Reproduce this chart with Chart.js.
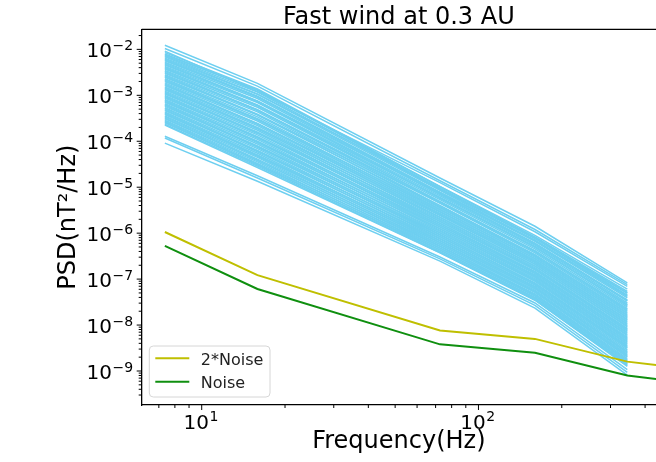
<!DOCTYPE html>
<html>
<head>
<meta charset="utf-8">
<script src="https://cdn.jsdelivr.net/npm/chart.js@4.4.1/dist/chart.umd.min.js"></script>
<style>
  html, body { margin: 0; padding: 0; background: #fff; overflow: hidden; }
  #wrap { width: 656px; height: 462px; position: relative; }
</style>
</head>
<body>
<div id="wrap"><canvas id="psdChart" width="656" height="462"></canvas></div>
<script>
// frequencies (Hz) where each spectrum is sampled
const psdFreqs = [7.36, 15.9, 72.6, 160, 345];
const noiseFreqs = [7.36, 15.9, 72.6, 160, 345, 450];

// noise floor, nT^2/Hz
const noiseLevel = [5.3e-7, 6.1e-8, 3.8e-9, 2.5e-9, 8.0e-10, 6.6e-10];
const twoNoiseLevel = [1.06e-6, 1.22e-7, 7.6e-9, 5.0e-9, 1.6e-9, 1.32e-9];

// spectra, stored as log10(PSD)
const psdLog10 = [
    [-1.91, -2.74, -4.80, -5.85, -7.08],
    [-1.98, -2.80, -4.86, -5.92, -7.12],
    [-2.04, -2.92, -4.90, -5.97, -7.16],
    [-2.07, -2.86, -4.98, -6.05, -7.22],
    [-2.12, -2.88, -5.03, -6.10, -7.30],
    [-2.16, -2.97, -5.02, -6.11, -7.35],
    [-2.21, -3.02, -5.11, -6.15, -7.36],
    [-2.25, -3.03, -5.15, -6.22, -7.45],
    [-2.30, -3.12, -5.14, -6.23, -7.47],
    [-2.34, -3.13, -5.24, -6.30, -7.55],
    [-2.39, -3.21, -5.23, -6.31, -7.56],
    [-2.43, -3.22, -5.32, -6.38, -7.64],
    [-2.48, -3.31, -5.33, -6.40, -7.66],
    [-2.52, -3.32, -5.40, -6.47, -7.73],
    [-2.57, -3.41, -5.40, -6.48, -7.75],
    [-2.61, -3.42, -5.48, -6.55, -7.83],
    [-2.66, -3.51, -5.49, -6.56, -7.84],
    [-2.70, -3.52, -5.57, -6.63, -7.92],
    [-2.75, -3.61, -5.58, -6.64, -7.94],
    [-2.79, -3.62, -5.65, -6.71, -8.02],
    [-2.84, -3.70, -5.66, -6.72, -8.04],
    [-2.88, -3.72, -5.74, -6.79, -8.11],
    [-2.93, -3.80, -5.75, -6.80, -8.13],
    [-2.97, -3.81, -5.82, -6.87, -8.21],
    [-3.02, -3.90, -5.83, -6.88, -8.23],
    [-3.06, -3.91, -5.90, -6.95, -8.30],
    [-3.11, -4.00, -5.91, -6.96, -8.32],
    [-3.15, -4.01, -5.99, -7.03, -8.40],
    [-3.20, -4.10, -6.00, -7.05, -8.42],
    [-3.24, -4.11, -6.07, -7.12, -8.49],
    [-3.29, -4.20, -6.08, -7.13, -8.51],
    [-3.33, -4.21, -6.16, -7.20, -8.59],
    [-3.38, -4.30, -6.17, -7.21, -8.61],
    [-3.42, -4.31, -6.24, -7.28, -8.68],
    [-3.47, -4.39, -6.25, -7.29, -8.70],
    [-3.51, -4.41, -6.32, -7.36, -8.78],
    [-3.56, -4.48, -6.33, -7.37, -8.80],
    [-3.60, -4.50, -6.40, -7.43, -8.86],
    [-3.65, -4.57, -6.43, -7.46, -8.90],
    [-3.89, -4.75, -6.52, -7.52, -8.97],
    [-3.93, -4.80, -6.56, -7.57, -9.03],
    [-4.04, -4.87, -6.61, -7.63, -9.09],
    [-2.10, -2.89, -4.99, -6.08, -7.27],
    [-2.14, -2.93, -5.05, -6.12, -7.31],
    [-2.19, -2.98, -5.07, -6.16, -7.38],
    [-2.23, -3.04, -5.12, -6.18, -7.41],
    [-2.28, -3.07, -5.16, -6.24, -7.48],
    [-2.32, -3.14, -5.19, -6.26, -7.52],
    [-2.37, -3.16, -5.22, -6.29, -7.58],
    [-2.41, -3.23, -5.27, -6.34, -7.61],
    [-2.46, -3.26, -5.31, -6.39, -7.68],
    [-2.50, -3.33, -5.35, -6.43, -7.70],
    [-2.55, -3.36, -5.43, -6.50, -7.78],
    [-2.59, -3.43, -5.45, -6.52, -7.80],
    [-2.64, -3.47, -5.52, -6.59, -7.87],
    [-2.68, -3.53, -5.54, -6.61, -7.89],
    [-2.73, -3.56, -5.60, -6.67, -7.97],
    [-2.77, -3.63, -5.62, -6.68, -7.99],
    [-2.82, -3.66, -5.69, -6.75, -8.07],
    [-2.86, -3.73, -5.71, -6.77, -8.09],
    [-2.91, -3.76, -5.78, -6.83, -8.16],
    [-2.95, -3.83, -5.79, -6.85, -8.18],
    [-3.00, -3.86, -5.86, -6.91, -8.26],
    [-3.04, -3.93, -5.87, -6.93, -8.28],
    [-3.09, -3.96, -5.94, -6.99, -8.35],
    [-3.13, -4.03, -5.96, -7.01, -8.37],
    [-3.18, -4.06, -6.03, -7.08, -8.45],
    [-3.22, -4.13, -6.04, -7.10, -8.47],
    [-3.27, -4.16, -6.11, -7.16, -8.54],
    [-3.31, -4.23, -6.13, -7.18, -8.57],
    [-3.36, -4.26, -6.20, -7.24, -8.64],
    [-3.40, -4.33, -6.21, -7.26, -8.66],
    [-3.45, -4.35, -6.28, -7.32, -8.73],
    [-3.49, -4.42, -6.29, -7.34, -8.76],
    [-3.54, -4.45, -6.36, -7.40, -8.83],
    [-3.58, -4.52, -6.37, -7.41, -8.85],
    [-3.63, -4.54, -6.42, -7.45, -8.88]
];

// labelled decades on each axis
const xTickExponents = [1, 2];
const yTickExponents = [-9, -8, -7, -6, -5, -4, -3, -2];

const FONT = '"DejaVu Sans", sans-serif';

function toPoints(xs, ys) {
    return ys.map((y, i) => ({x: xs[i], y: y}));
}

const datasets = [
    {
        label: '2*Noise',
        data: toPoints(noiseFreqs, twoNoiseLevel),
        borderColor: '#bfbf00',
        borderWidth: 2,
        pointRadius: 0
    },
    {
        label: 'Noise',
        data: toPoints(noiseFreqs, noiseLevel),
        borderColor: '#0f8f0f',
        borderWidth: 2,
        pointRadius: 0
    }
];
psdLog10.forEach(function(curve) {
    datasets.push({
        label: '',
        data: curve.map((e, i) => ({x: psdFreqs[i], y: Math.pow(10, e)})),
        borderColor: '#6ecff0',
        borderWidth: 1.5,
        pointRadius: 0
    });
});

// matplotlib-like ticks, tick labels, top spine and legend
const mplAxes = {
    id: 'mplAxes',
    afterDraw(chart) {
        const c = chart.ctx;
        const area = chart.chartArea;
        const xs = chart.scales.x;
        const ys = chart.scales.y;
        c.save();

        // top spine
        c.strokeStyle = '#000';
        c.lineWidth = 1.3;
        c.beginPath();
        c.moveTo(area.left, area.top);
        c.lineTo(area.right, area.top);
        c.stroke();

        // tick marks
        c.lineWidth = 1;
        function mant(v) {
            return v / Math.pow(10, Math.floor(Math.log10(v) + 1e-9));
        }
        xs.ticks.forEach(function(t) {
            if (t.value < xs.min * 0.999 || t.value > xs.max * 1.001) return;
            const m = mant(t.value);
            if (Math.abs(m - Math.round(m)) > 1e-6) return;
            const px = xs.getPixelForValue(t.value);
            const len = Math.round(m) === 1 ? 5 : 3;
            c.beginPath();
            c.moveTo(px, area.bottom);
            c.lineTo(px, area.bottom + len);
            c.stroke();
        });
        ys.ticks.forEach(function(t) {
            if (t.value < ys.min * 0.999 || t.value > ys.max * 1.001) return;
            const m = mant(t.value);
            if (Math.abs(m - Math.round(m)) > 1e-6) return;
            const py = ys.getPixelForValue(t.value);
            const len = Math.round(m) === 1 ? 5 : 3;
            c.beginPath();
            c.moveTo(area.left, py);
            c.lineTo(area.left - len, py);
            c.stroke();
        });

        // tick labels 10^n
        c.fillStyle = '#000';
        c.textBaseline = 'alphabetic';
        c.textAlign = 'left';
        const big = '20px ' + FONT;
        const small = '14px ' + FONT;
        function expText(e) {
            return (e < 0 ? '\u2212' : '') + Math.abs(e);
        }
        xTickExponents.forEach(function(e) {
            const px = xs.getPixelForValue(Math.pow(10, e));
            c.font = big;
            const w1 = c.measureText('10').width;
            c.font = small;
            const w2 = c.measureText(expText(e)).width;
            const x0 = px - (w1 + w2) / 2 - 1;
            c.font = big;
            c.fillText('10', x0, area.bottom + 23.5);
            c.font = small;
            c.fillText(expText(e), x0 + w1 + 0.5, area.bottom + 16);
        });
        yTickExponents.forEach(function(e) {
            const py = ys.getPixelForValue(Math.pow(10, e));
            c.font = big;
            const w1 = c.measureText('10').width;
            c.font = small;
            const w2 = c.measureText(expText(e)).width;
            const x0 = area.left - 9 - w1 - w2;
            c.font = big;
            c.fillText('10', x0, py + 7.7);
            c.font = small;
            c.fillText(expText(e), x0 + w1 + 0.5, py + 1);
        });

        // legend box
        const items = chart.data.datasets.filter(d => d.label);
        const bx = area.left + 7.6, bw = 120.7, bh = 51;
        const by = area.bottom - 8 - bh;
        c.beginPath();
        c.roundRect(bx, by, bw, bh, 4);
        c.fillStyle = 'rgba(255,255,255,0.8)';
        c.fill();
        c.strokeStyle = '#d6d6d6';
        c.lineWidth = 1;
        c.stroke();
        c.font = '16px ' + FONT;
        items.forEach(function(d, i) {
            const ry = by + 12.3 + i * 23.4;
            c.strokeStyle = d.borderColor;
            c.lineWidth = d.borderWidth;
            c.beginPath();
            c.moveTo(bx + 6, ry);
            c.lineTo(bx + 40, ry);
            c.stroke();
            c.fillStyle = '#222';
            c.fillText(d.label, bx + 51.5, ry + 6.4);
        });
        c.restore();
    }
};

const psdCtx = document.getElementById('psdChart').getContext('2d');
const psdChart = new Chart(psdCtx, {
    type: 'line',
    data: {
        datasets: datasets
    },
    options: {
        responsive: false,
        animation: false,
        devicePixelRatio: 1,
        layout: {
            padding: 0
        },
        elements: {
            line: { tension: 0 }
        },
        scales: {
            x: {
                type: 'logarithmic',
                position: 'bottom',
                min: 6.07,
                max: 438,
                ticks: { display: false },
                grid: { display: false, drawTicks: false },
                border: { display: true, color: '#000', width: 1.3 },
                title: {
                    display: true,
                    text: 'Frequency(Hz)',
                    color: '#000',
                    font: { family: FONT, size: 24 },
                    padding: { top: 0, bottom: 5.4 }
                },
                afterFit: function(scale) {
                    scale.height = 57;
                }
            },
            y: {
                type: 'logarithmic',
                position: 'left',
                min: 1.82e-10,
                max: 2.72e-2,
                ticks: { display: false },
                grid: { display: false, drawTicks: false },
                border: { display: true, color: '#000', width: 1.3 },
                title: {
                    display: true,
                    text: 'PSD(nT\u00b2/Hz)',
                    color: '#000',
                    font: { family: FONT, size: 24 },
                    padding: { top: 54.3, bottom: 0 }
                },
                afterFit: function(scale) {
                    scale.width = 141.7;
                }
            }
        },
        plugins: {
            legend: { display: false },
            tooltip: { enabled: false },
            title: {
                display: true,
                text: 'Fast wind at 0.3 AU',
                color: '#000',
                fullSize: false,
                font: { family: FONT, size: 24, weight: 'normal', lineHeight: 1 },
                padding: { top: 5.4, bottom: 0 }
            }
        }
    },
    plugins: [mplAxes]
});
</script>
</body>
</html>
